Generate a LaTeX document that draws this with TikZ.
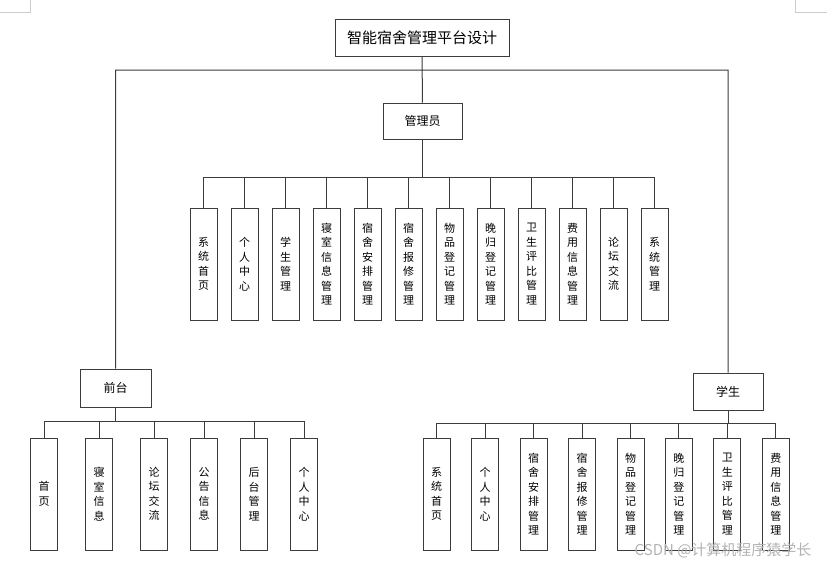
\documentclass[tikz,border=0pt]{standalone}
\usepackage{fontspec}
\newfontfamily\cjk{Noto Sans CJK SC}
\definecolor{ink}{HTML}{3C3C3C}
\definecolor{faint}{HTML}{CCCCCC}

\begin{document}
\begin{tikzpicture}[x=1pt,y=-1pt,
 box/.style={draw=ink,line width=1pt,inner sep=0pt,align=center,
 font=\cjk\fontsize{12}{14}\selectfont},
 leaf/.style={box,minimum width=27pt,minimum height=112pt,
 font=\cjk\fontsize{11}{14.5}\selectfont},
 link/.style={draw=ink,line width=1pt}]
\useasboundingbox (0,0) rectangle (827,565);
% page corner marks
\draw[faint] (0,12) -- (30,12) -- (30,0);
\draw[faint] (827,12) -- (795,12) -- (795,0);
% upper levels
\node[box,minimum width=174pt,minimum height=37pt,
 font=\cjk\fontsize{15}{17}\selectfont] (root) at (422,37.5) {智能宿舍管理平台设计};
\node[box,minimum width=79pt,minimum height=36pt] (admin) at (422.5,121) {管理员};
\node[box,minimum width=71pt,minimum height=38pt] (front) at (115.5,388) {前台};
\node[box,minimum width=70pt,minimum height=37pt] (stu) at (728,391.5) {学生};
\coordinate (rbar) at (422.5,70);
\path[link] (root) -- (admin) (rbar) -| (front) (rbar) -| (stu);
% admin modules
\coordinate (abar) at (422.5,177);
\foreach \t [count=\i] in {{系\\统\\首\\页},{个\\人\\中\\心},{学\\生\\管\\理},
 {寝\\室\\信\\息\\管\\理},{宿\\舍\\安\\排\\管\\理},{宿\\舍\\报\\修\\管\\理},
 {物\\品\\登\\记\\管\\理},{晚\\归\\登\\记\\管\\理},{卫\\生\\评\\比\\管\\理},
 {费\\用\\信\\息\\管\\理},{论\\坛\\交\\流},{系\\统\\管\\理}}{
  \node[leaf] (a\i) at ({203.5+41*(\i-1)},264) {\t};
  \draw[link] (abar) -| (a\i);
}
% front modules
\coordinate (fbar) at (115.5,421);
\foreach \x/\t [count=\i] in {44/{首\\页},99/{寝\\室\\信\\息},154/{论\\坛\\交\\流},
 204/{公\\告\\信\\息},254/{后\\台\\管\\理},304/{个\\人\\中\\心}}{
  \node[leaf] (f\i) at (\x,494) {\t};
  \draw[link] (fbar) -| (f\i);
}
% student modules
\coordinate (sbar) at (728,423);
\foreach \t [count=\i] in {{系\\统\\首\\页},{个\\人\\中\\心},{宿\\舍\\安\\排\\管\\理},
 {宿\\舍\\报\\修\\管\\理},{物\\品\\登\\记\\管\\理},{晚\\归\\登\\记\\管\\理},
 {卫\\生\\评\\比\\管\\理},{费\\用\\信\\息\\管\\理}}{
  \node[leaf] (s\i) at ({436.7+48.45*(\i-1)},494) {\t};
  \draw[link] (sbar) -| (s\i);
}
\path[link] (admin) -- (abar) (front) -- (fbar) (stu) -- (sbar);
% watermark
\node[text=gray!60,font=\cjk\fontsize{15}{17}\selectfont,anchor=east] (mark)
 at (815,550) {CSDN @计算机程序猿学长};
\end{tikzpicture}
\end{document}
